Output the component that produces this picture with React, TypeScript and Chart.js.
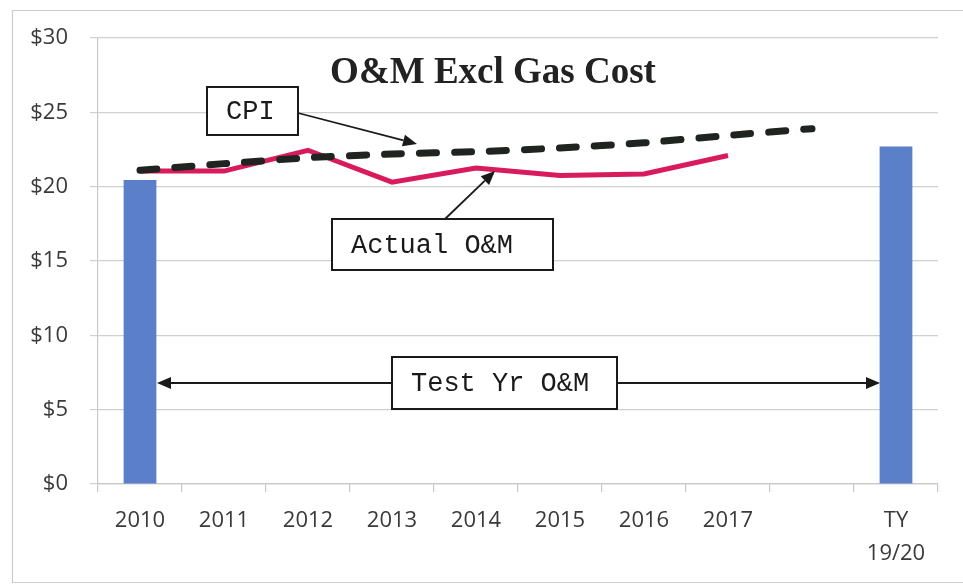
import React, { useEffect, useRef } from "react";
import { Chart, registerables } from "chart.js";

Chart.register(...registerables);

const categories: (string | string[])[] = ["2010", "2011", "2012", "2013", "2014", "2015", "2016", "2017", "", ["TY", "19/20"]];
const testYearBars: (number | null)[] = [20.45, null, null, null, null, null, null, null, null, 22.7];
const actualOM: (number | null)[] = [21.05, 21.05, 22.45, 20.3, 21.25, 20.75, 20.85, 22.1, null, null];
const cpi: (number | null)[] = [21.1, 21.55, 21.95, 22.2, 22.35, 22.6, 22.95, 23.45, 23.9, null];
const yTicks = { min: 0, max: 30, step: 5 };
const chartTitle = "O&M Excl Gas Cost";
const labelCPI = "CPI";
const labelActual = "Actual O&M";
const labelTestYr = "Test Yr O&M";

const MONO = '"Courier New", "Liberation Mono", monospace';
const SANS = '"Open Sans", "Noto Sans", sans-serif';

function arrow(ctx: CanvasRenderingContext2D, x1: number, y1: number, x2: number, y2: number) {
  const ang = Math.atan2(y2 - y1, x2 - x1);
  const len = 14;
  const hw = 6;
  const bx = x2 - len * Math.cos(ang);
  const by = y2 - len * Math.sin(ang);
  ctx.save();
  ctx.strokeStyle = "#1a1a1a";
  ctx.fillStyle = "#1a1a1a";
  ctx.lineWidth = 1.8;
  ctx.beginPath();
  ctx.moveTo(x1, y1);
  ctx.lineTo(bx, by);
  ctx.stroke();
  ctx.beginPath();
  ctx.moveTo(x2, y2);
  ctx.lineTo(bx + hw * Math.sin(ang), by - hw * Math.cos(ang));
  ctx.lineTo(bx - hw * Math.sin(ang), by + hw * Math.cos(ang));
  ctx.closePath();
  ctx.fill();
  ctx.restore();
}

function box(ctx: CanvasRenderingContext2D, x: number, y: number, w: number, h: number, text: string) {
  ctx.save();
  ctx.fillStyle = "#ffffff";
  ctx.fillRect(x, y, w, h);
  ctx.strokeStyle = "#1a1a1a";
  ctx.lineWidth = 2;
  ctx.strokeRect(x, y, w, h);
  ctx.fillStyle = "#1a1a1a";
  ctx.font = `27px ${MONO}`;
  ctx.textAlign = "left";
  ctx.textBaseline = "middle";
  ctx.fillText(text, x + 19, y + h / 2 + 1);
  ctx.restore();
}

const decorPlugin = {
  id: "decor",
  beforeDraw(chart: any) {
    const ctx = chart.ctx as CanvasRenderingContext2D;
    ctx.save();
    ctx.fillStyle = "#ffffff";
    ctx.fillRect(0, 0, chart.width, chart.height);
    ctx.strokeStyle = "#cccccc";
    ctx.lineWidth = 1.2;
    ctx.beginPath();
    ctx.moveTo(963, 10.5);
    ctx.lineTo(12.5, 10.5);
    ctx.lineTo(12.5, 582.5);
    ctx.lineTo(963, 582.5);
    ctx.stroke();
    ctx.restore();
  },
  afterDraw(chart: any) {
    const ctx = chart.ctx as CanvasRenderingContext2D;
    ctx.save();
    ctx.fillStyle = "#222222";
    ctx.font = `bold 37px "Times New Roman", "Liberation Serif", serif`;
    ctx.textAlign = "center";
    ctx.textBaseline = "alphabetic";
    ctx.fillText(chartTitle, 493, 83);
    ctx.restore();

    arrow(ctx, 298, 113, 417, 144);
    box(ctx, 207, 87, 91, 48, labelCPI);

    arrow(ctx, 445, 219, 495, 171);
    box(ctx, 332, 219, 221, 51, labelActual);

    arrow(ctx, 392, 383, 157, 383);
    arrow(ctx, 617, 383, 880, 383);
    box(ctx, 392, 357, 225, 52, labelTestYr);
  },
};

export default function App() {
  const ref = useRef<HTMLCanvasElement>(null);
  useEffect(() => {
    if (!ref.current) return;
    const chart = new Chart(ref.current, {
      type: "bar",
      data: {
        labels: categories as any,
        datasets: [
          {
            type: "bar",
            label: "Test Yr O&M",
            data: testYearBars,
            backgroundColor: "#5b7fc9",
            borderWidth: 0,
            barPercentage: 0.39,
            categoryPercentage: 1,
            order: 3,
          } as any,
          {
            type: "line",
            label: "Actual O&M",
            data: actualOM,
            borderColor: "#d81b5c",
            borderWidth: 5,
            pointRadius: 0,
            tension: 0,
            fill: false,
            spanGaps: false,
            order: 2,
          } as any,
          {
            type: "line",
            label: "CPI",
            data: cpi,
            borderColor: "#1f2420",
            borderWidth: 7,
            borderDash: [17, 18],
            borderCapStyle: "round",
            pointRadius: 0,
            tension: 0.1,
            fill: false,
            order: 1,
          } as any,
        ],
      },
      options: {
        responsive: false,
        animation: false,
        devicePixelRatio: 1,
        layout: { padding: { left: 0, top: 38, right: 25, bottom: 0 } },
        plugins: {
          legend: { display: false },
          title: { display: false },
          tooltip: { enabled: false },
        },
        scales: {
          x: {
            offset: true,
            grid: {
              offset: true,
              drawOnChartArea: false,
              drawTicks: true,
              tickLength: 8,
              color: "#c8c8c8",
              lineWidth: 1.2,
            },
            border: { display: true, color: "#c8c8c8", width: 1.2 },
            ticks: {
              autoSkip: false,
              maxRotation: 0,
              minRotation: 0,
              padding: 12,
              color: "#3a3a3a",
              font: { family: SANS, size: 22, lineHeight: 1.5 },
            },
            afterFit: (scale: any) => {
              scale.height = 100;
            },
          },
          y: {
            min: yTicks.min,
            max: yTicks.max,
            grid: {
              color: "#d0d0d0",
              lineWidth: 1.2,
              drawTicks: true,
              tickLength: 8,
            },
            border: { display: true, color: "#c8c8c8", width: 1.2 },
            ticks: {
              stepSize: yTicks.step,
              padding: 22,
              color: "#3a3a3a",
              font: { family: SANS, size: 22 },
              callback: (v: any) => "$" + v,
            },
            afterFit: (scale: any) => {
              scale.width = 98;
            },
          },
        },
      },
      plugins: [decorPlugin],
    });
    return () => chart.destroy();
  }, []);
  return (
    <div style={{ position: "absolute", left: 0, top: 0, width: 963, height: 584 }}>
      <canvas ref={ref} width={963} height={584} style={{ display: "block" }} />
    </div>
  );
}
